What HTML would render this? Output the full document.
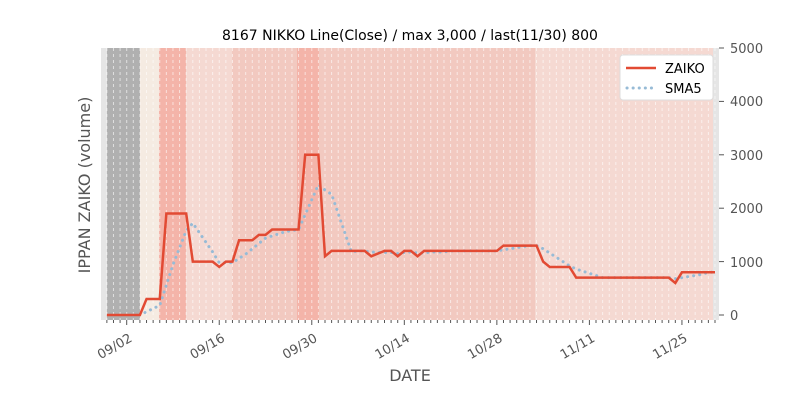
<!DOCTYPE html>
<html><head><meta charset="utf-8"><style>
body{margin:0;background:#fff;font-family:"Liberation Sans","DejaVu Sans",sans-serif}
</style></head><body>
<svg id="s" width="800" height="400" xmlns="http://www.w3.org/2000/svg" font-family="DejaVu Sans, Liberation Sans, sans-serif">
<rect x="101" y="48" width="618" height="272" fill="#e5e5e5"/>
<rect x="107" y="48" width="33" height="272" fill="#b0b0b0"/>
<rect x="140" y="48" width="19" height="272" fill="#f5ebe2"/>
<rect x="159" y="48" width="27" height="272" fill="#f4b4a9"/>
<rect x="186" y="48" width="46" height="272" fill="#f5d9d2"/>
<rect x="232" y="48" width="65" height="272" fill="#f2c9c0"/>
<rect x="297" y="48" width="22" height="272" fill="#f4b4a9"/>
<rect x="319" y="48" width="216" height="272" fill="#f2c9c0"/>
<rect x="535" y="48" width="178" height="272" fill="#f5d9d2"/>
<g id="grid"></g>
<g id="ticks" stroke="#555" stroke-width="1"></g>
<text x="410" y="40" font-size="14" text-anchor="middle" fill="#000">8167 NIKKO Line(Close) / max 3,000 / last(11/30) 800</text>
<g font-size="13" fill="#555">
<text x="730" y="320">0</text><text x="730" y="267">1000</text><text x="730" y="213">2000</text><text x="730" y="160">3000</text><text x="730" y="106">4000</text><text x="730" y="53">5000</text>
</g>
<g stroke="#555"><line x1="719" x2="724" y1="315" y2="315"/><line x1="719" x2="724" y1="261.6" y2="261.6"/><line x1="719" x2="724" y1="208.2" y2="208.2"/><line x1="719" x2="724" y1="154.8" y2="154.8"/><line x1="719" x2="724" y1="101.4" y2="101.4"/><line x1="719" x2="724" y1="48" y2="48"/></g>
<g id="xl" font-size="13" fill="#555"></g>
<text x="410" y="381" font-size="16" text-anchor="middle" fill="#555">DATE</text>
<text transform="translate(90,185) rotate(-90)" font-size="16" text-anchor="middle" fill="#555">IPPAN ZAIKO (volume)</text>
<polyline id="sma" fill="none" stroke="#97bbd6" stroke-width="3" stroke-dasharray="0.1,6" stroke-linecap="round"/>
<polyline id="z" fill="none" stroke="#e24a33" stroke-width="2.5"/>
<rect x="620" y="55" width="93" height="45" fill="#fff" stroke="#ddd" rx="3"/>
<line x1="626" x2="656" y1="68" y2="68" stroke="#e24a33" stroke-width="2.5"/>
<line x1="627" x2="656" y1="88" y2="88" stroke="#97bbd6" stroke-width="3" stroke-dasharray="0.1,6" stroke-linecap="round"/>
<text x="665" y="73" font-size="13" fill="#000">ZAIKO</text>
<text x="665" y="93" font-size="13" fill="#000">SMA5</text>
</svg>
<script>
var segs=[[-3,2,0],[3,5,300],[6,9,1900],[10,13,1000],[14,14,900],[15,16,1000],[17,19,1400],[20,21,1500],[22,26,1600],[27,29,3000],[30,30,1100],[31,36,1200],[37,37,1100],[38,38,1150],[39,40,1200],[41,41,1100],[42,43,1200],[44,44,1100],[45,56,1200],[57,62,1300],[63,63,1000],[64,67,900],[68,82,700],[83,83,600],[84,89,800]];
var d=[],v=[];segs.forEach(function(s){for(var i=s[0];i<=s[1];i++){d.push(i);v.push(s[2]);}});
function X(i){return 126.7+6.61*i}function Y(a){return 315-a*0.0534}
document.getElementById('z').setAttribute('points',d.map(function(x,i){return X(x)+','+Y(v[i])}).join(' '));
var p=[];for(var i=4;i<v.length;i++){var s=0;for(var k=i-4;k<=i;k++)s+=v[k];p.push(X(d[i])+','+Y(s/5));}
document.getElementById('sma').setAttribute('points',p.join(' '));
var g='',t='';
for(var i=-3;i<=89;i++){var x=X(i);g+='<line x1="'+x+'" x2="'+x+'" y1="48" y2="320" stroke="#fff" stroke-opacity="0.6" stroke-dasharray="3,3"/>';
var maj=(i%14==0);t+='<line x1="'+x+'" x2="'+x+'" y1="320" y2="'+(maj?325:323)+'"/>';}
document.getElementById('grid').innerHTML=g;document.getElementById('ticks').innerHTML=t;
var L=['09/02','09/16','09/30','10/14','10/28','11/11','11/25'],xl='';
L.forEach(function(s,j){var x=X(j*14);xl+='<text transform="translate('+(x+2)+',333) rotate(-30)" text-anchor="end" dominant-baseline="hanging">'+s+'</text>';});
document.getElementById('xl').innerHTML=xl;
</script>
</body></html>
